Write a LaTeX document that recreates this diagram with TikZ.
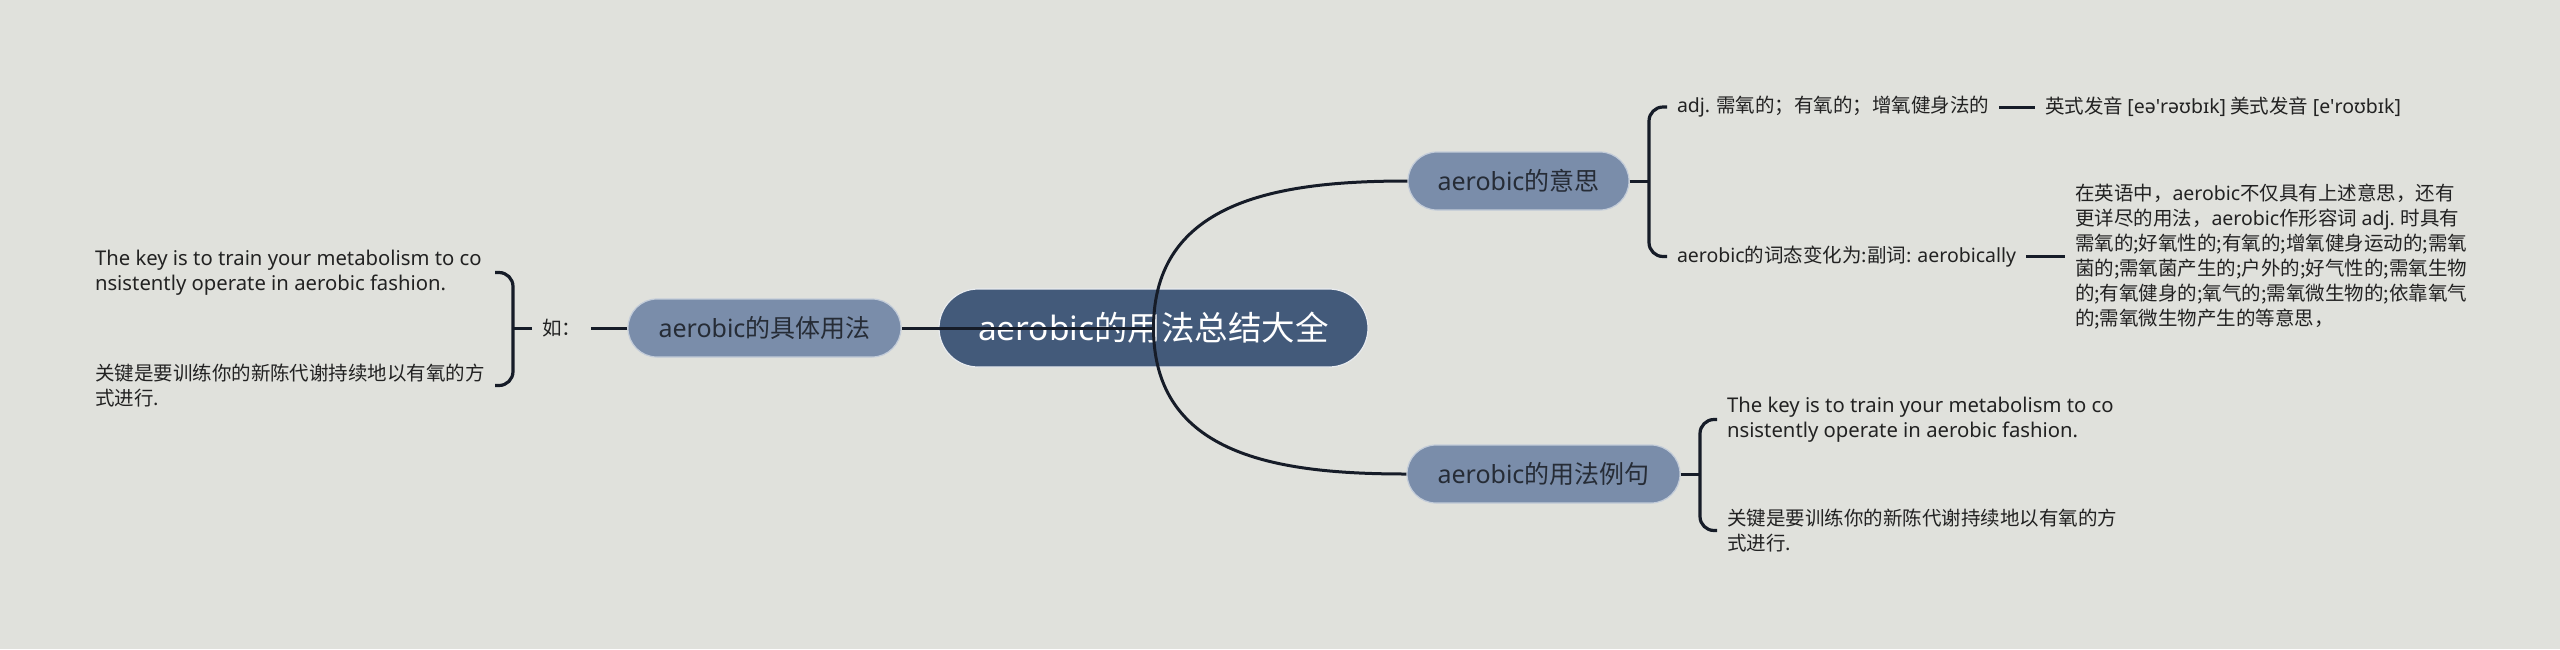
\documentclass[tikz,border=0pt]{standalone}
\usepackage{fontspec}
\setmainfont{Noto Sans CJK SC}
\newfontfamily\lt{Noto Sans}
\newfontfamily\en[Scale=1.04]{Noto Sans}
\definecolor{bgc}{HTML}{E0E1DC}
\definecolor{rootc}{HTML}{435A7A}
\definecolor{brc}{HTML}{7A8DAA}
\definecolor{linec}{HTML}{161C28}
\definecolor{txtc}{HTML}{262C36}
\definecolor{leafc}{HTML}{222222}
\begin{document}
\begin{tikzpicture}[x=1pt,y=-1pt,
  rootbox/.style={rectangle, rounded corners=39pt, minimum width=429pt, minimum height=78pt,
    fill=rootc, draw=white!88!rootc, line width=1.2pt, text=white,
    font=\fontsize{33.5}{40}\selectfont, inner sep=0pt},
  branchbox/.style={rectangle, rounded corners=29pt, minimum height=58pt,
    fill=brc, draw=white!55!brc, line width=1.2pt, text=txtc,
    font=\fontsize{25}{30}\selectfont, inner sep=0pt},
  leaf/.style={inner sep=0pt, outer xsep=10pt, outer ysep=0pt, anchor=west,
    align=left, text=leafc, font=\fontsize{19.5}{25}\selectfont},
  conn/.style={draw=linec, line width=3pt},
  brk/.style={draw=linec, line width=3.2pt, rounded corners=14pt}]
\fill[bgc] (0,0) rectangle (2560,649);
\useasboundingbox (0,0) rectangle (2560,649);

% main nodes
\node[rootbox] (root) at (1153.5,328) {{\lt aerobic}的用法总结大全};
\node[branchbox, minimum width=221pt] (b1) at (1518.5,181) {{\lt aerobic}的意思};
\node[branchbox, minimum width=273pt] (b2) at (1543.5,474) {{\lt aerobic}的用法例句};
\node[branchbox, minimum width=273pt] (b3) at (764.5,328) {{\lt aerobic}的具体用法};

% right upper leaves
\node[leaf] (t1) at (1667,107) {{\lt adj.} 需氧的；有氧的；增氧健身法的};
\node[leaf] (t1a) at (2035,107) {英式发音 {\lt [eə\textquotesingle rəʊbɪk]} 美式发音 {\lt [e\textquotesingle roʊbɪk]}};
\node[leaf] (t2) at (1667,256.5) {{\lt aerobic}的词态变化为:副词: {\lt aerobically}};
\node[leaf] (t2a) at (2065,256.5) {在英语中，{\lt aerobic}不仅具有上述意思，还有\\更详尽的用法，{\lt aerobic}作形容词 {\lt adj.} 时具有\\需氧的;好氧性的;有氧的;增氧健身运动的;需氧\\菌的;需氧菌产生的;户外的;好气性的;需氧生物\\的;有氧健身的;氧气的;需氧微生物的;依靠氧气\\的;需氧微生物产生的等意思，};

% right lower leaves
\node[leaf] (t3) at (1717,419.5) {{\en The key is to train your metabolism to co}\\{\en nsistently operate in aerobic fashion.}};
\node[leaf] (t4) at (1717,530.5) {关键是要训练你的新陈代谢持续地以有氧的方\\式进行.};

% left leaves
\node[leaf] (l0) at (532,328) {如：};
\node[leaf] (l1) at (85,272.5) {{\en The key is to train your metabolism to co}\\{\en nsistently operate in aerobic fashion.}};
\node[leaf] (l2) at (85,385.5) {关键是要训练你的新陈代谢持续地以有氧的方\\式进行.};

% junctions
\coordinate (j1) at (1649,181);
\coordinate (j2) at (1700,474);
\coordinate (j3) at (513,328);
\coordinate (e1) at (495,272.5);
\coordinate (e2) at (495,385.5);

% connectors
\draw[conn] (root.center) -- (b3.east);
\draw[conn] (root.center) .. controls +(0,-128) and +(-128,0) .. (b1.west);
\draw[conn] (root.center) .. controls +(0,128) and +(-128,0) .. (b2.west);

\draw[conn] (b1.east) -- (j1);
\draw[brk] (t1.west) -| (j1) |- (t2.west);
\draw[conn] (t1.east) -- (t1a.west);
\draw[conn] (t2.east) -- (t2a.west);

\draw[conn] (b2.east) -- (j2);
\draw[brk] (t3.west) -| (j2) |- (t4.west);

\draw[conn] (b3.west) -- (l0.east);
\draw[conn] (l0.west) -- (j3);
\draw[brk] (e1) -| (j3) |- (e2);
\end{tikzpicture}
\end{document}
